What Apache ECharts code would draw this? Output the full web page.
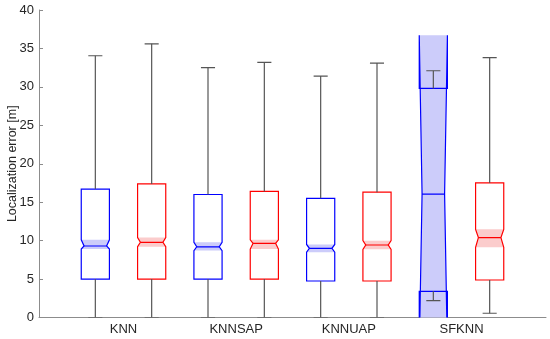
<!DOCTYPE html>
<html>
<head>
<meta charset="utf-8">
<script src="https://cdn.jsdelivr.net/npm/echarts@6/dist/echarts.min.js"></script>
<style>html,body{margin:0;padding:0;background:#fff}#c{width:550px;height:339px}</style>
</head>
<body>
<div id="c"></div>
<script>
// Data
const groupNames = ['KNN', 'KNNSAP', 'KNNUAP', 'SFKNN'];
const boxPositions = [1, 2, 3, 4, 5, 6, 7, 8];
const boxColors = ['blue', 'red', 'blue', 'red', 'blue', 'red', 'blue', 'red'];
const lowerWhisker = [0, 0, 0, 0, 0, 0, 2.2, 0.55];
const q1 = [5.0, 5.0, 5.0, 5.0, 4.75, 4.75, 3.4, 4.88];
const notchLow = [8.9, 9.2, 8.7, 8.9, 8.5, 8.87, -4.6, 9.13];
const median = [9.3, 9.78, 9.2, 9.65, 9.0, 9.43, 16.06, 10.4];
const notchHigh = [10.1, 10.4, 9.78, 10.1, 9.5, 10.0, 36.7, 11.47];
const q3 = [16.7, 17.37, 16.0, 16.4, 15.5, 16.3, 29.8, 17.5];
const upperWhisker = [34.05, 35.6, 32.5, 33.2, 31.4, 33.1, 32.1, 33.8];
const groupCenters = [1.5, 3.5, 5.5, 7.5];

const strokeMap = { blue: '#0000ff', red: '#ff0000' };
const fillMap = { blue: '#ccccfa', red: '#fbcccc' };
const whiskerColor = '#555555';
const boxHalf = 0.25, notchInset = 0.05, capHalf = 0.125;

const data = boxPositions.map((p, i) => [p, lowerWhisker[i], q1[i], notchLow[i], median[i], notchHigh[i], q3[i], upperWhisker[i], i]);

function renderItem(params, api) {
  const x = api.value(0);
  const i = api.value(8);
  const col = boxColors[i];
  const P = (xx, yy) => api.coord([xx, yy]);
  const L = x - boxHalf, R = x + boxHalf;
  const lw = api.value(1), a = api.value(2), nl = api.value(3), m = api.value(4), nh = api.value(5), b = api.value(6), uw = api.value(7);
  const children = [];
  children.push({
    type: 'polygon',
    shape: { points: [P(L, nl), P(L + notchInset, m), P(L, nh), P(R, nh), P(R - notchInset, m), P(R, nl)] },
    style: { fill: fillMap[col], stroke: null }
  });
  children.push({
    type: 'polygon',
    shape: { points: [P(L, a), P(L, nl), P(L + notchInset, m), P(L, nh), P(L, b), P(R, b), P(R, nh), P(R - notchInset, m), P(R, nl), P(R, a)] },
    style: { fill: null, stroke: strokeMap[col], lineWidth: 1.2 }
  });
  children.push({
    type: 'line',
    shape: { x1: P(L + notchInset, m)[0], y1: P(0, m)[1], x2: P(R - notchInset, m)[0], y2: P(0, m)[1] },
    style: { stroke: strokeMap[col], lineWidth: 1.2 }
  });
  const ws = { stroke: whiskerColor, lineWidth: 1.2 };
  const up1 = P(x, b), up2 = P(x, uw), lo1 = P(x, a), lo2 = P(x, lw);
  children.push({ type: 'line', shape: { x1: up1[0], y1: up1[1], x2: up2[0], y2: up2[1] }, style: ws });
  children.push({ type: 'line', shape: { x1: lo1[0], y1: lo1[1], x2: lo2[0], y2: lo2[1] }, style: ws });
  const cu1 = P(x - capHalf, uw), cu2 = P(x + capHalf, uw);
  children.push({ type: 'line', shape: { x1: cu1[0], y1: cu1[1], x2: cu2[0], y2: cu2[1] }, style: ws });
  const cl1 = P(x - capHalf, lw), cl2 = P(x + capHalf, lw);
  children.push({ type: 'line', shape: { x1: cl1[0], y1: cl1[1], x2: cl2[0], y2: cl2[1] }, style: ws });
  return { type: 'group', children: children };
}

const chart = echarts.init(document.getElementById('c'), null, { renderer: 'canvas' });
const font = 'Liberation Sans, Arial, Helvetica, sans-serif';
chart.setOption({
  animation: false,
  backgroundColor: '#ffffff',
  grid: { left: 39, right: 4, top: 10, bottom: 21.5, containLabel: false, outerBoundsMode: 'none' },
  xAxis: {
    type: 'value', min: 0, max: 9, interval: 0.5,
    axisLine: { show: true, lineStyle: { color: '#8c8c8c', width: 1 } },
    axisTick: { show: false },
    splitLine: { show: false },
    axisLabel: {
      color: '#262626', fontSize: 13, fontFamily: font, margin: 5,
      showMinLabel: false, showMaxLabel: false,
      formatter: v => { const k = groupCenters.indexOf(v); return k >= 0 ? groupNames[k] : ''; }
    }
  },
  yAxis: {
    type: 'value', min: 0, max: 40, interval: 5,
    name: 'Localization error [m]', nameLocation: 'middle', nameGap: 20, nameRotate: 90,
    nameMoveOverlap: false,
    nameTextStyle: { color: '#262626', fontSize: 12.5, fontFamily: font },
    axisLine: { show: true, lineStyle: { color: '#8c8c8c', width: 1 } },
    axisTick: { show: true, inside: true, length: 4, lineStyle: { color: '#8c8c8c' } },
    splitLine: { show: false },
    axisLabel: { color: '#262626', fontSize: 13, fontFamily: font, margin: 5 }
  },
  series: [{
    type: 'custom',
    clip: true,
    renderItem: renderItem,
    encode: { x: 0, y: [1, 2, 3, 4, 5, 6, 7] },
    data: data
  }]
});
</script>
</body>
</html>
